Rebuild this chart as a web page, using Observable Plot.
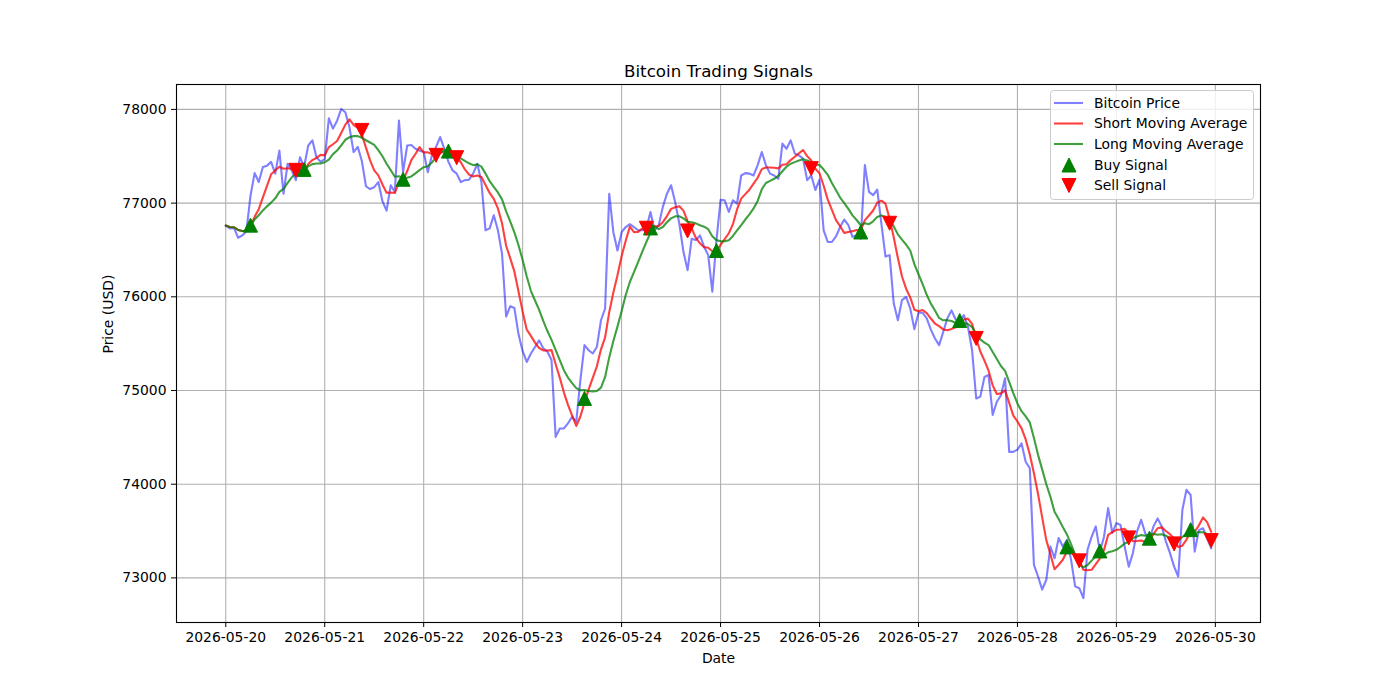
<!DOCTYPE html>
<html>
<head>
<meta charset="utf-8">
<script src="https://cdn.jsdelivr.net/npm/d3@7"></script>
<script src="https://cdn.jsdelivr.net/npm/@observablehq/plot@0.6"></script>
<style>
  html, body { margin: 0; padding: 0; background: white; }
  #chart { width: 1400px; height: 700px; }
</style>
</head>
<body>
<div id="chart"></div>
<script>
// ---------------- data ----------------
const title = "Bitcoin Trading Signals";
const xLabel = "Date";
const yLabel = "Price (USD)";
const startDate = "2026-05-20T00:00:00Z"; // hourly series
const shortWindow = 6;
const longWindow = 12;

// hourly Bitcoin price (USD)
const price = [
  76760,76730,76735,76630,76655,76700,77080,77320,77225,77385,77400,77440,77315,77560,77100,77420,77350,77245,77490,77385,77615,77670,77490,77440,
  77470,77905,77795,77880,78005,77970,77810,77545,77600,77450,77180,77150,77170,77225,77020,76920,77190,77120,77880,77330,77615,77620,77580,77560,
  77545,77330,77510,77600,77705,77580,77440,77350,77315,77225,77245,77250,77315,77420,77225,76710,76730,76870,76710,76460,75790,75900,75880,75600,
  75420,75305,75395,75465,75535,75450,75415,75325,74505,74595,74595,74650,74720,74665,75110,75485,75430,75395,75465,75750,75875,77100,76690,76495,
  76690,76745,76775,76745,76710,76710,76730,76905,76710,76765,76960,77100,77190,77010,76780,76480,76285,76620,76605,76655,76535,76445,76055,76600,
  77035,77030,76905,77030,76995,77295,77320,77315,77295,77405,77545,77405,77315,77295,77260,77635,77580,77670,77530,77510,77475,77245,77295,77140,
  77250,76710,76585,76585,76645,76745,76825,76765,76640,76655,76620,77405,77120,77085,77145,76780,76430,76445,75930,75750,75965,76000,75875,75655,
  75830,75830,75770,75650,75555,75485,75625,75770,75855,75760,75735,75805,75680,75430,74915,74935,75145,75165,74740,74880,74950,75130,74345,74345,
  74370,74435,74240,74170,73140,73015,72875,72980,73335,73210,73425,73335,73405,73195,72910,72890,72785,73300,73440,73550,73280,73440,73745,73480,
  73585,73565,73335,73120,73265,73495,73620,73475,73405,73550,73635,73550,73390,73265,73120,73015,73725,73940,73885,73280,73510,73530,73425,73315
];

// signals: hour offset from start, and price level of the marker
const buyHours  = [6, 19, 43, 54, 87, 103, 119, 154, 178, 204, 212, 224, 234];
const buyPrices = [76765, 77360, 77255, 77555, 74916, 76735, 76494, 76692, 75747, 73331, 73288, 73424, 73515];
const sellHours  = [17, 33, 51, 56, 102, 112, 142, 161, 182, 207, 219, 230, 239];
const sellPrices = [77350, 77776, 77510, 77485, 76732, 76703, 77368, 76785, 75556, 73182, 73427, 73363, 73398];

const xTickLabels = ["2026-05-20","2026-05-21","2026-05-22","2026-05-23","2026-05-24","2026-05-25",
                     "2026-05-26","2026-05-27","2026-05-28","2026-05-29","2026-05-30"];
const yTickValues = [73000, 74000, 75000, 76000, 77000, 78000];
const legendLabels = ["Bitcoin Price", "Short Moving Average", "Long Moving Average", "Buy Signal", "Sell Signal"];

// ---------------- derived ----------------
const HOUR = 3600e3;
const t0 = new Date(startDate).getTime();
const dateAt = i => new Date(t0 + i * HOUR);

function rolling(arr, k) {
  return arr.map((_, i) => d3.mean(arr.slice(Math.max(0, i - k + 1), i + 1)));
}
const shortMA = rolling(price, shortWindow);
const longMA = rolling(price, longWindow);

const rows = price.map((p, i) => ({date: dateAt(i), price: p, short: shortMA[i], long: longMA[i]}));
const buys = buyHours.map((h, k) => ({date: dateAt(h), price: buyPrices[k]}));
const sells = sellHours.map((h, k) => ({date: dateAt(h), price: sellPrices[k]}));
const xTicks = xTickLabels.map(s => new Date(s + "T00:00:00Z"));

// matplotlib-like 5% margins
const tEnd = t0 + (price.length - 1) * HOUR;
const xPad = 0.05 * (tEnd - t0);
const allY = price.concat(shortMA, longMA, buyPrices, sellPrices);
const yMin = d3.min(allY), yMax = d3.max(allY);
const yPad = 0.05 * (yMax - yMin);

const COL_PRICE = "blue", COL_SHORT = "red", COL_LONG = "green";
const triUp = { draw(ctx, size) { const r = Math.sqrt(size / Math.PI);
  ctx.moveTo(0, -r); ctx.lineTo(r, r); ctx.lineTo(-r, r); ctx.closePath(); } };
const triDown = { draw(ctx, size) { const r = Math.sqrt(size / Math.PI);
  ctx.moveTo(0, r); ctx.lineTo(r, -r); ctx.lineTo(-r, -r); ctx.closePath(); } };

const FS = 13.9;
const chart = Plot.plot({
  width: 1400,
  height: 700,
  marginLeft: 176,
  marginRight: 140,
  marginTop: 84,
  marginBottom: 78,
  style: {background: "white", fontFamily: "'DejaVu Sans', sans-serif", fontSize: FS + "px", color: "black"},
  x: {type: "utc", domain: [new Date(t0 - xPad), new Date(tEnd + xPad)], ticks: xTicks,
      tickFormat: d3.utcFormat("%Y-%m-%d"), tickSize: 5, tickPadding: 5, label: null},
  y: {domain: [yMin - yPad, yMax + yPad], ticks: yTickValues, tickFormat: d => String(d),
      tickSize: 5, tickPadding: 5, label: null},
  marks: [
    Plot.ruleX(xTicks, {stroke: "#b0b0b0", strokeWidth: 1.1}),
    Plot.ruleY(yTickValues, {stroke: "#b0b0b0", strokeWidth: 1.1}),
    Plot.line(rows, {x: "date", y: "price", stroke: COL_PRICE, strokeOpacity: 0.5, strokeWidth: 2.1}),
    Plot.line(rows, {x: "date", y: "short", stroke: COL_SHORT, strokeOpacity: 0.75, strokeWidth: 2.1}),
    Plot.line(rows, {x: "date", y: "long", stroke: COL_LONG, strokeOpacity: 0.75, strokeWidth: 2.1}),
    Plot.dot(buys, {x: "date", y: "price", symbol: triUp, r: 7, fill: "green", stroke: "green", strokeWidth: 1}),
    Plot.dot(sells, {x: "date", y: "price", symbol: triDown, r: 7, fill: "red", stroke: "red", strokeWidth: 1}),
    Plot.frame({stroke: "black", strokeWidth: 1.1}),
    Plot.text([title], {text: d => d, frameAnchor: "top", dy: -8, lineAnchor: "bottom", fontSize: 16.7}),
    Plot.text([xLabel], {text: d => d, frameAnchor: "bottom", dy: 36, lineAnchor: "middle", fontSize: FS}),
    Plot.text([yLabel], {text: d => d, frameAnchor: "left", dx: -68, rotate: -90, lineAnchor: "middle", fontSize: FS})
  ]
});
document.getElementById("chart").appendChild(chart);

// ---------------- legend (upper right, inside the axes) ----------------
const svg = d3.select(chart.tagName.toLowerCase() === "svg" ? chart : chart.querySelector("svg"));
const lg = svg.append("g").attr("font-family", "'DejaVu Sans', sans-serif").attr("font-size", FS + "px")
  .attr("text-anchor", "start");
lg.append("rect").attr("x", 1050.5).attr("y", 90.5).attr("width", 203).attr("height", 109).attr("rx", 3)
  .attr("fill", "white").attr("fill-opacity", 0.8).attr("stroke", "#cccccc").attr("stroke-width", 1);
const rowY = [103, 123.5, 144, 165, 185.5];
const styles = [
  {type: "line", color: COL_PRICE, op: 0.5},
  {type: "line", color: COL_SHORT, op: 0.75},
  {type: "line", color: COL_LONG, op: 0.75},
  {type: "up", color: "green"},
  {type: "down", color: "red"}
];
legendLabels.forEach((lab, k) => {
  const y = rowY[k], s = styles[k];
  if (s.type === "line") {
    lg.append("line").attr("x1", 1054).attr("x2", 1083).attr("y1", y).attr("y2", y)
      .attr("stroke", s.color).attr("stroke-opacity", s.op).attr("stroke-width", 2.1);
  } else {
    const p = d3.path();
    (s.type === "up" ? triUp : triDown).draw(p, Math.PI * 49);
    lg.append("path").attr("d", p.toString()).attr("transform", `translate(1069,${y})`)
      .attr("fill", s.color).attr("stroke", s.color).attr("stroke-width", 1);
  }
  lg.append("text").attr("x", 1094).attr("y", y).attr("dy", "0.35em").attr("fill", "black")
    .attr("text-anchor", "start").text(lab);
});
</script>
</body>
</html>
